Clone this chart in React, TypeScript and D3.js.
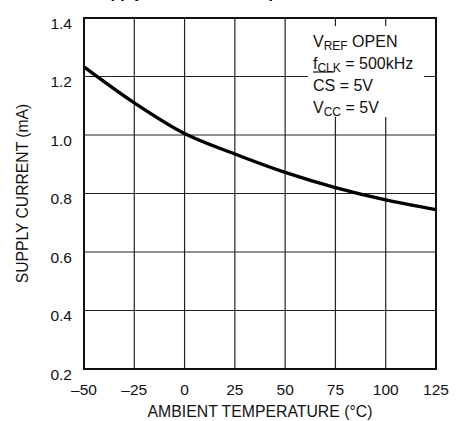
import React from "react";
import * as d3 from "d3";

const temps = [-50, -25, 0, 25, 50, 75, 100, 125];
const current = [1.233, 1.11, 1.005, 0.935, 0.872, 0.82, 0.778, 0.745];
const xTicks = [-50, -25, 0, 25, 50, 75, 100, 125];
const yTicks = [0.2, 0.4, 0.6, 0.8, 1.0, 1.2, 1.4];

const W = 464;
const H = 421;
const L = 84, R = 436, T = 18, B = 369;
const FONT = "'Liberation Sans', Arial, Helvetica, sans-serif";

export default function App() {
  const x = d3.scaleLinear().domain([-50, 125]).range([L, R]);
  const y = d3.scaleLinear().domain([0.2, 1.4]).range([B, T]);
  const pts: [number, number][] = temps.map((t, i) => [t, current[i]]);
  const line = d3
    .line<[number, number]>()
    .x((d) => x(d[0]))
    .y((d) => y(d[1]))
    .curve(d3.curveMonotoneX);

  const fmtX = (v: number) => (v < 0 ? "\u2013" + Math.abs(v) : String(v));

  return (
    <svg
      width={W}
      height={H}
      style={{ position: "fixed", left: 0, top: 0, background: "#fff" }}
      fontFamily={FONT}
    >
      <rect x={0} y={0} width={W} height={H} fill="#fff" />
      {/* title, cut off at the top edge as in the reference */}
      <text x={90} y={-2} fontSize={16} fontWeight="bold" fill="#000">
        Supply Current vs. Temperature
      </text>
      {/* grid */}
      {xTicks.slice(1, -1).map((t) => (
        <line key={"gx" + t} x1={x(t)} x2={x(t)} y1={T} y2={B} stroke="#222" strokeWidth={1.2} />
      ))}
      {yTicks.slice(1, -1).map((v) => (
        <line key={"gy" + v} x1={L} x2={R} y1={y(v)} y2={y(v)} stroke="#222" strokeWidth={1.2} />
      ))}
      {/* legend box background */}
      <rect x={308} y={26} width={116} height={91} fill="#fff" />
      {/* curve */}
      <path d={line(pts) || ""} fill="none" stroke="#000" strokeWidth={3.4} />
      {/* frame */}
      <rect x={L} y={T} width={R - L} height={B - T} fill="none" stroke="#111" strokeWidth={2} />
      {/* y tick labels */}
      {yTicks.map((v) => (
        <text key={"yl" + v} x={72} y={y(v) + 10.5} fontSize={15.5} textAnchor="end" fill="#111">
          {v.toFixed(1)}
        </text>
      ))}
      {/* x tick labels */}
      {xTicks.map((t) => (
        <text key={"xl" + t} x={x(t)} y={395} fontSize={15.5} textAnchor="middle" fill="#111">
          {fmtX(t)}
        </text>
      ))}
      {/* axis titles */}
      <text x={(L + R) / 2} y={417} fontSize={15.8} textAnchor="middle" fill="#111">
        AMBIENT TEMPERATURE (°C)
      </text>
      <text
        transform={`translate(28,${(T + B) / 2}) rotate(-90)`}
        fontSize={15.7}
        textAnchor="middle"
        fill="#111"
      >
        SUPPLY CURRENT (mA)
      </text>
      {/* legend text */}
      <g fontSize={16} fill="#111">
        <text x={313} y={47}>
          V<tspan fontSize={12} dy={3}>REF</tspan>
          <tspan dy={-3}> OPEN</tspan>
        </text>
        <text x={313} y={69}>
          f<tspan fontSize={12} dy={3}>CLK</tspan>
          <tspan dy={-3}> = 500kHz</tspan>
        </text>
        <line x1={313} x2={334} y1={72} y2={72} stroke="#111" strokeWidth={1.2} />
        <text x={313} y={91}>CS = 5V</text>
        <text x={313} y={113}>
          V<tspan fontSize={12} dy={3}>CC</tspan>
          <tspan dy={-3}> = 5V</tspan>
        </text>
      </g>
    </svg>
  );
}
